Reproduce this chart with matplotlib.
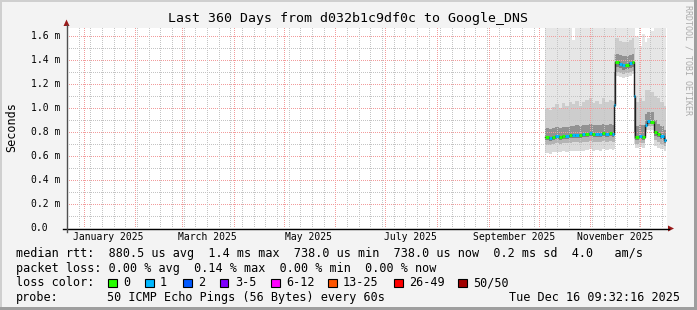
import matplotlib
matplotlib.use("Agg")
import matplotlib.pyplot as plt
import matplotlib.dates as mdates
from matplotlib.patches import Rectangle, Polygon
from matplotlib.lines import Line2D
from matplotlib.colors import to_rgba
from matplotlib.transforms import blended_transform_factory
import numpy as np
import pandas as pd

# ---------------- data ----------------
title = "Last 360 Days from d032b1c9df0c to Google_DNS"
y_label = "Seconds"
axis_start = "2024-12-22 00:00:00"
data_end = "2025-12-16 09:32:16"

x_label_dates = ["2025-01-16", "2025-03-16", "2025-05-16", "2025-07-16", "2025-09-16", "2025-11-16"]
x_labels = ["January 2025", "March 2025", "May 2025", "July 2025", "September 2025", "November 2025"]
y_ticks = [0.0, 0.2, 0.4, 0.6, 0.8, 1.0, 1.2, 1.4, 1.6]
y_tick_labels = ["0.0", "0.2 m", "0.4 m", "0.6 m", "0.8 m", "1.0 m", "1.2 m", "1.4 m", "1.6 m"]

dates = ["2025-10-05", "2025-10-07", "2025-10-09", "2025-10-11", "2025-10-13", "2025-10-15",
         "2025-10-17", "2025-10-19", "2025-10-21", "2025-10-23", "2025-10-25", "2025-10-27",
         "2025-10-29", "2025-10-31", "2025-11-02", "2025-11-04", "2025-11-06", "2025-11-08",
         "2025-11-10", "2025-11-12", "2025-11-14", "2025-11-15",
         "2025-11-16", "2025-11-18", "2025-11-20", "2025-11-22", "2025-11-24", "2025-11-26",
         "2025-11-27", "2025-11-28", "2025-11-30", "2025-12-02", "2025-12-04",
         "2025-12-05", "2025-12-07", "2025-12-09", "2025-12-11", "2025-12-13", "2025-12-15"]

median_ms = [0.755, 0.752, 0.760, 0.765, 0.762, 0.770, 0.768, 0.772, 0.776, 0.778, 0.775, 0.780,
             0.784, 0.790, 0.782, 0.785, 0.780, 0.788, 0.784, 0.790, 0.786, 1.025,
             1.385, 1.370, 1.358, 1.362, 1.372, 1.385,
             1.100, 0.758, 0.765, 0.760, 0.858,
             0.888, 0.885, 0.800, 0.785, 0.765, 0.735]

loss_count = [0, 1, 0, 1, 0, 0, 1, 0, 1, 1, 0, 1, 0, 1, 0, 1, 1, 0, 1, 0, 1, 1,
              0, 1, 1, 0, 1, 0,
              1, 0, 1, 0, 1,
              1, 0, 0, 0, 1, 1]

smoke_min = [0.625, 0.620, 0.630, 0.635, 0.630, 0.640, 0.635, 0.640, 0.645, 0.645, 0.640, 0.645,
             0.650, 0.655, 0.645, 0.650, 0.645, 0.655, 0.650, 0.655, 0.650, 0.660,
             1.270, 1.260, 1.250, 1.260, 1.270, 1.280,
             0.700, 0.665, 0.675, 0.670, 0.800,
             0.820, 0.820, 0.680, 0.665, 0.655, 0.640]
smoke_p10 = [0.695, 0.690, 0.700, 0.705, 0.700, 0.710, 0.705, 0.710, 0.715, 0.715, 0.710, 0.715,
             0.720, 0.725, 0.715, 0.720, 0.715, 0.725, 0.720, 0.725, 0.720, 0.720,
             1.300, 1.290, 1.280, 1.290, 1.300, 1.310,
             0.740, 0.700, 0.710, 0.705, 0.820,
             0.850, 0.850, 0.730, 0.720, 0.700, 0.680]
smoke_p25 = [0.730, 0.727, 0.735, 0.740, 0.737, 0.745, 0.743, 0.747, 0.751, 0.753, 0.750, 0.755,
             0.759, 0.765, 0.757, 0.760, 0.755, 0.763, 0.759, 0.765, 0.761, 0.800,
             1.340, 1.330, 1.320, 1.325, 1.335, 1.345,
             0.800, 0.735, 0.740, 0.735, 0.840,
             0.868, 0.865, 0.770, 0.760, 0.740, 0.710]
smoke_p75 = [0.830, 0.825, 0.835, 0.840, 0.835, 0.845, 0.840, 0.850, 0.850, 0.855, 0.850, 0.855,
             0.860, 0.865, 0.855, 0.860, 0.855, 0.865, 0.860, 0.865, 0.860, 1.300,
             1.450, 1.440, 1.430, 1.430, 1.440, 1.450,
             1.350, 0.850, 0.860, 0.855, 0.950,
             0.970, 0.965, 0.900, 0.870, 0.850, 0.820]
smoke_p90 = [1.000, 0.980, 1.010, 1.030, 1.000, 1.040, 1.020, 1.050, 1.030, 1.060, 1.020, 1.050,
             1.070, 1.080, 1.040, 1.060, 1.030, 1.080, 1.050, 1.070, 1.060, 1.450,
             1.580, 1.560, 1.550, 1.550, 1.570, 1.580,
             1.500, 1.050, 1.080, 1.060, 1.150,
             1.150, 1.130, 1.100, 1.080, 1.050, 1.020]
smoke_max = [1.750, 1.720, 1.700, 1.740, 1.700, 1.730, 1.700, 1.760, 1.570, 1.680, 1.740, 1.710,
             1.750, 1.730, 1.700, 1.740, 1.720, 1.760, 1.700, 1.730, 1.750, 1.750,
             1.800, 1.780, 1.800, 1.780, 1.800, 1.800,
             1.750, 1.600, 1.520, 1.620, 1.550,
             1.580, 1.640, 1.750, 1.720, 1.750, 1.700]

loss_labels = ["0", "1", "2", "3-5", "6-12", "13-25", "26-49", "50/50"]
loss_lower = [0, 1, 2, 3, 6, 13, 26, 50]
loss_colors = ["#26ff00", "#00b8ff", "#0059ff", "#7e00ff", "#ff00ff", "#ff5500", "#ff0000", "#a10000"]

legend_rtt = "median rtt:  880.5 us avg  1.4 ms max  738.0 us min  738.0 us now  0.2 ms sd  4.0   am/s"
legend_loss = "packet loss: 0.00 % avg  0.14 % max  0.00 % min  0.00 % now"
legend_color_title = "loss color:"
probe_title = "probe:"
probe_text = "50 ICMP Echo Pings (56 Bytes) every 60s"
stamp_text = "Tue Dec 16 09:32:16 2025"
watermark = "RRDTOOL / TOBI OETIKER"

# ---------------- layout ----------------
W, H, DPI = 697, 310, 100
MONO = "DejaVu Sans Mono"
BG = "#f3f3f3"
GRID_MINOR = "#c4c4c4"
GRID_MAJOR = "#f29c9c"


def FX(px):
    return px / W


def FY(py):
    return 1 - py / H


fig = plt.figure(figsize=(W / DPI, H / DPI), dpi=DPI)
fig.patch.set_facecolor(BG)

PL, PR, PT, PB = 67, 667, 28, 228
PW, PH = PR - PL, PB - PT
ax = fig.add_axes([FX(PL), FY(PB), PW / W, PH / H])
ax.set_facecolor("white")
for s in ax.spines.values():
    s.set_visible(False)
ax.set_xticks([])
ax.set_yticks([])

t0 = pd.Timestamp(axis_start)
t1 = t0 + pd.Timedelta(days=360)
X0, X1 = mdates.date2num(t0), mdates.date2num(t1)
ax.set_xlim(X0, X1)
px_per_unit = (PB - 36) / y_ticks[-1]
y_top = PH / px_per_unit
ax.set_ylim(0, y_top)

# grid: pixel-exact dotted lines as an overlay image
grid = np.zeros((PH, PW, 4))
cmin, cmaj = to_rgba(GRID_MINOR), to_rgba(GRID_MAJOR)


def col_of(ts):
    return int(round((mdates.date2num(ts) - X0) / (X1 - X0) * PW))


def vline(c, rgba):
    if 0 <= c < PW:
        grid[0::2, c, :] = rgba


def hline(r, rgba):
    if 0 <= r < PH:
        grid[r, 0::2, :] = rgba


for i in range(len(y_ticks) - 1):
    hline(int(round(PH - (y_ticks[i] + y_ticks[i + 1]) / 2 * px_per_unit)), cmin)
for v in y_ticks[1:]:
    hline(int(round(PH - v * px_per_unit)), cmaj)
for d in pd.date_range(t0.normalize(), t1, freq="W-SUN"):
    if d.day != 1:
        vline(col_of(d), cmin)
for d in pd.date_range(t0, t1, freq="MS"):
    vline(col_of(d), cmaj)
ax.imshow(grid, extent=(X0, X1, 0, y_top), aspect="auto", interpolation="nearest",
          origin="upper", zorder=2)
ax.set_xlim(X0, X1)
ax.set_ylim(0, y_top)

# data
xs = [mdates.date2num(pd.Timestamp(d)) for d in dates] + [mdates.date2num(pd.Timestamp(data_end))]


def ext(a):
    return list(a) + [a[-1]]


bands = [(smoke_min, smoke_p10, "#dadada"),
         (smoke_p10, smoke_p25, "#b4b4b4"),
         (smoke_p25, median_ms, "#808080"),
         (median_ms, smoke_p75, "#929292"),
         (smoke_p75, smoke_p90, "#cdcdcd"),
         (smoke_p90, smoke_max, "#e6e6e6")]
for lo, hi, c in bands:
    ax.fill_between(xs, ext(lo), ext(hi), step="post", color=c, lw=0,
                    antialiased=False, zorder=1)

ax.step(xs, ext(median_ms), where="post", color="#202020", lw=1.0, zorder=3)


def loss_color(n):
    c = loss_colors[0]
    for lb, col in zip(loss_lower, loss_colors):
        if n >= lb:
            c = col
    return c


for i in range(len(dates)):
    ax.plot([xs[i], xs[i + 1]], [median_ms[i], median_ms[i]], color=loss_color(loss_count[i]),
            lw=2.2, solid_capstyle="butt", zorder=4)

# axes lines & arrows
fig.add_artist(Line2D([FX(63), FX(669)], [FY(228.5), FY(228.5)], color="black", lw=1.0))
fig.add_artist(Line2D([FX(66.5), FX(66.5)], [FY(232), FY(25)], color="#505050", lw=1.0))
ARROW = "#9a1a1a"
fig.add_artist(Polygon([(FX(66.5), FY(19.5)), (FX(63.5), FY(26)), (FX(69.5), FY(26))],
                       closed=True, transform=fig.transFigure, color=ARROW, lw=0))
fig.add_artist(Polygon([(FX(674), FY(228.5)), (FX(668), FY(225.5)), (FX(668), FY(231.5))],
                       closed=True, transform=fig.transFigure, color=ARROW, lw=0))

# tick labels
for v, lab in zip(y_ticks, y_tick_labels):
    fig.text(FX(30.5), FY(PB - v * px_per_unit), lab, ha="left", va="center",
             family=MONO, fontsize=7.06, color="black")
trans = blended_transform_factory(ax.transData, fig.transFigure)
for d, lab in zip(x_label_dates, x_labels):
    ax.text(mdates.date2num(pd.Timestamp(d)), FY(237.5), lab, transform=trans, ha="center",
            va="center", family=MONO, fontsize=7.06, color="black", clip_on=False)

fig.text(FX(12), FY(127), y_label, rotation=90, ha="center", va="center", family=MONO,
         fontsize=8.45, color="black")
fig.text(FX(347.5), FY(18.5), title, ha="center", va="center", family=MONO, fontsize=9.55,
         color="black")
fig.text(FX(688), FY(60), watermark, rotation=270, ha="center", va="center", family=MONO,
         fontsize=6.0, color="#ababab")

# legend
LFS = 8.45
fig.text(FX(16), FY(254), legend_rtt, ha="left", va="center", family=MONO, fontsize=LFS)
fig.text(FX(16), FY(268.5), legend_loss, ha="left", va="center", family=MONO, fontsize=LFS)
fig.text(FX(16), FY(283), legend_color_title, ha="left", va="center", family=MONO, fontsize=LFS)
box_x = [108, 145, 183, 220, 271, 328, 394, 458]
for bx, lab, col in zip(box_x, loss_labels, loss_colors):
    fig.add_artist(Rectangle((FX(bx), FY(287)), 8.5 / W, 8.5 / H, transform=fig.transFigure,
                             facecolor=col, edgecolor="black", lw=0.8))
    fig.text(FX(bx + 15), FY(283), lab, ha="left", va="center", family=MONO, fontsize=LFS)
fig.text(FX(16), FY(297.5), probe_title, ha="left", va="center", family=MONO, fontsize=LFS)
fig.text(FX(107), FY(297.5), probe_text, ha="left", va="center", family=MONO, fontsize=LFS)
fig.text(FX(680), FY(297.5), stamp_text, ha="right", va="center", family=MONO, fontsize=LFS)

# frame shading
fig.add_artist(Rectangle((0, FY(2)), 1, 2 / H, transform=fig.transFigure, color="#cfcfcf", lw=0))
fig.add_artist(Rectangle((0, 0), 2 / W, 1, transform=fig.transFigure, color="#cfcfcf", lw=0))
fig.add_artist(Rectangle((0, 0), 1, 3 / H, transform=fig.transFigure, color="#9e9e9e", lw=0))
fig.add_artist(Rectangle((FX(694), 0), 3 / W, 1, transform=fig.transFigure, color="#9e9e9e", lw=0))

fig.savefig("out.png", dpi=DPI, facecolor=BG)
